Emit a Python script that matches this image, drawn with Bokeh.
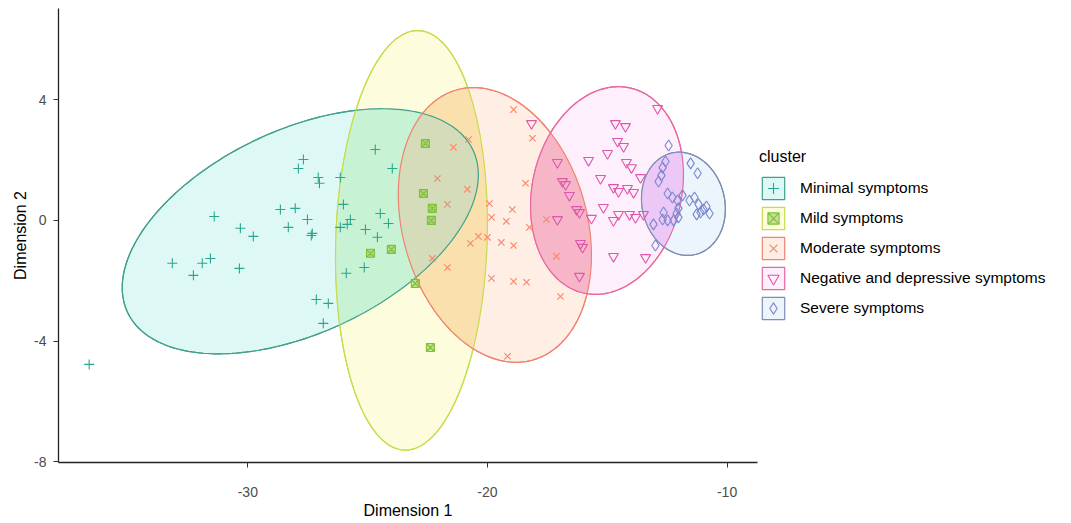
import numpy as np
from bokeh.plotting import figure
from bokeh.models import Legend, LegendItem, FixedTicker, Range1d
from bokeh.embed import file_html
from bokeh.resources import INLINE

clusters = ["Minimal symptoms", "Mild symptoms", "Moderate symptoms",
            "Negative and depressive symptoms", "Severe symptoms"]

minimal_x = [-27.68, -27.89, -27.06, -27.01, -26.14, -26.01, -24.68, -23.97, -31.40, -28.64,
             -28.02, -27.51, -28.31, -27.31, -27.35, -30.31, -29.77, -33.15, -32.27, -31.90,
             -31.56, -30.35, -25.72, -25.85, -26.14, -25.09, -24.47, -24.13, -24.59, -25.89,
             -25.14, -27.14, -26.64, -26.85, -36.62]
minimal_y = [2.02, 1.72, 1.42, 1.23, 1.42, 0.53, 2.35, 1.72, 0.13, 0.36,
             0.40, 0.03, -0.23, -0.43, -0.50, -0.26, -0.53, -1.42, -1.82, -1.42,
             -1.26, -1.59, 0.03, -0.13, -0.23, -0.30, 0.23, -0.10, -0.56, -1.75,
             -1.56, -2.62, -2.75, -3.41, -4.77]

mild_x = [-22.59, -22.67, -22.30, -22.34, -24.88, -24.01, -23.01, -22.38]
mild_y = [2.55, 0.89, 0.40, 0.00, -1.09, -0.96, -2.09, -4.21]

moderate_x = [-18.91, -18.12, -20.79, -21.42, -22.09, -20.84, -21.67, -18.41, -19.92, -18.96,
              -19.83, -19.21, -18.25, -20.38, -20.71, -20.00, -19.42, -18.91, -22.30, -21.67,
              -19.83, -18.91, -18.37, -17.12, -17.54, -16.95, -19.16]
moderate_y = [3.67, 2.72, 2.68, 2.42, 1.39, 1.03, 0.53, 1.23, 0.56, 0.36,
              0.10, -0.03, -0.23, -0.53, -0.76, -0.56, -0.73, -0.83, -1.26, -1.56,
              -1.92, -2.02, -2.05, -1.19, 0.03, -2.52, -4.50]

negative_x = [-12.90, -18.16, -14.66, -14.24, -14.57, -14.32, -14.99, -15.78, -14.20, -13.99,
              -17.08, -15.28, -16.87, -16.74, -14.74, -14.53, -14.16, -13.90, -13.61, -16.58,
              -15.16, -16.28, -16.16, -15.66, -14.74, -14.53, -14.07, -13.82, -13.49, -17.08,
              -16.12, -16.03, -14.74, -13.40, -16.16]
negative_y = [3.71, 3.21, 3.21, 3.11, 2.62, 2.45, 2.22, 1.99, 1.92, 1.75,
              1.92, 1.39, 1.29, 1.19, 1.09, 0.96, 1.06, 0.93, 1.42, 0.83,
              0.43, 0.36, 0.26, 0.07, 0.00, 0.20, 0.20, 0.10, 0.20, 0.03,
              -0.76, -0.89, -1.19, -1.23, -1.85]

severe_x = [-12.44, -12.57, -12.69, -11.52, -11.23, -12.74, -12.86, -12.48, -12.28, -12.07,
            -11.86, -11.57, -11.36, -11.19, -10.98, -11.11, -11.27, -12.03, -12.11, -12.65,
            -12.69, -12.48, -12.23, -12.03, -13.07, -12.99, -10.73, -10.86]
severe_y = [2.48, 1.95, 1.75, 1.89, 1.56, 1.49, 1.29, 0.89, 0.76, 0.66,
            0.83, 0.66, 0.76, 0.53, 0.36, 0.26, 0.20, 0.40, 0.23, 0.26,
            0.03, 0.00, 0.00, 0.10, -0.13, -0.83, 0.23, 0.46]

# confidence ellipses: centre, half extent in x and y, correlation
ell_cx = [-27.81, -23.17, -19.69, -15.01, -11.82]
ell_cy = [-0.36, -0.66, -0.15, 0.99, 0.55]
ell_hx = [7.43, 3.17, 4.03, 3.19, 1.75]
ell_hy = [4.06, 6.95, 4.55, 3.44, 1.71]
ell_r = [0.46, 0.08, -0.22, 0.15, -0.10]

x_ticks = [-30, -20, -10]
y_ticks = [-8, -4, 0, 4]

xs_all = [minimal_x, mild_x, moderate_x, negative_x, severe_x]
ys_all = [minimal_y, mild_y, moderate_y, negative_y, severe_y]
markers = ["cross", "square_x", "x", "inverted_triangle", "diamond"]
sizes = [10, 8, 9, 10, 11]
point_colors = ["#2AA690", "#7DC234", "#F5876A", "#E056AC", "#7B86CF"]
line_colors = ["#40A08A", "#C8DC4E", "#F0836F", "#E9679F", "#7F8DB5"]
fill_colors = ["#DEF8F5", "#FDFCDC", "#FEEEE4", "#FDEFFC", "#ECF4FC"]


def ellipse_pts(i, n=240):
    t = np.linspace(0, 2 * np.pi, n, endpoint=False)
    r = ell_r[i]
    x = ell_cx[i] + ell_hx[i] * np.cos(t)
    y = ell_cy[i] + ell_hy[i] * (r * np.cos(t) + np.sqrt(1 - r * r) * np.sin(t))
    return list(zip(x, y))


def clip(subject, clipper):
    out = subject
    m = len(clipper)
    for k in range(m):
        a = clipper[k]
        b = clipper[(k + 1) % m]
        inp = out
        out = []
        if not inp:
            break

        def inside(p):
            return (b[0] - a[0]) * (p[1] - a[1]) - (b[1] - a[1]) * (p[0] - a[0]) >= 0

        def inter(p, q):
            dx1, dy1 = q[0] - p[0], q[1] - p[1]
            dx2, dy2 = b[0] - a[0], b[1] - a[1]
            den = dx1 * dy2 - dy1 * dx2
            s = ((a[0] - p[0]) * dy2 - (a[1] - p[1]) * dx2) / den
            return (p[0] + s * dx1, p[1] + s * dy1)

        s_prev = inp[-1]
        for e in inp:
            if inside(e):
                if not inside(s_prev):
                    out.append(inter(s_prev, e))
                out.append(e)
            elif inside(s_prev):
                out.append(inter(s_prev, e))
            s_prev = e
    return out


p = figure(frame_width=699, frame_height=454, output_backend="svg", toolbar_location=None,
           x_range=Range1d(-37.9, -8.73), y_range=Range1d(-8.02, 7.02),
           min_border_left=58, min_border_right=306, min_border_top=8, min_border_bottom=53,
           background_fill_color="white", border_fill_color="white")
p.outline_line_color = None
p.xgrid.visible = False
p.ygrid.visible = False

ells = [ellipse_pts(i) for i in range(5)]
fill_r = []
for i in range(5):
    ex, ey = zip(*ells[i])
    fill_r.append(p.patch(list(ex), list(ey), fill_color=fill_colors[i], line_color=line_colors[i],
                          line_width=1.2))

overlaps = [((0, 1), "#C8F2D4"), ((1, 2), "#F9E0AC"), ((0, 2), "#D5DCB9"),
            ((2, 3), "#F6B6C8"), ((3, 4), "#EBC8F5")]
for (a, b), col in overlaps:
    poly = clip(ells[a], ells[b])
    if len(poly) > 2:
        px, py = zip(*poly)
        p.patch(list(px), list(py), fill_color=col, line_color=None)
tri = clip(clip(ells[0], ells[1]), ells[2])
if len(tri) > 2:
    px, py = zip(*tri)
    p.patch(list(px), list(py), fill_color="#D5DCB9", line_color=None)

for i in range(5):
    ex, ey = zip(*ells[i])
    p.patch(list(ex), list(ey), fill_alpha=0, line_color=line_colors[i], line_width=1.2)

pt_r = []
for i in range(5):
    fa = 0.45 if markers[i] == "square_x" else 0
    pt_r.append(p.scatter(xs_all[i], ys_all[i], marker=markers[i], size=sizes[i],
                          line_color=point_colors[i], fill_color=point_colors[i], fill_alpha=fa,
                          line_width=1.1))

for ax, lab in ((p.xaxis[0], "Dimension 1"), (p.yaxis[0], "Dimension 2")):
    ax.axis_label = lab
    ax.axis_label_text_font = "Liberation Sans"
    ax.axis_label_text_font_size = "16px"
    ax.axis_label_text_font_style = "normal"
    ax.axis_label_text_color = "black"
    ax.major_label_text_font = "Liberation Sans"
    ax.major_label_text_font_size = "14px"
    ax.major_label_text_color = "#4D4D4D"
    ax.axis_line_color = "#222222"
    ax.axis_line_width = 1.3
    ax.major_tick_line_color = "#333333"
    ax.major_tick_in = 0
    ax.major_tick_out = 5
    ax.minor_tick_line_color = None
p.xaxis[0].ticker = FixedTicker(ticks=x_ticks)
p.yaxis[0].ticker = FixedTicker(ticks=y_ticks)
p.xaxis[0].major_label_overrides = {t: str(t) for t in x_ticks}
p.yaxis[0].major_label_overrides = {t: str(t) for t in y_ticks}
p.xaxis[0].major_label_standoff = 19
p.xaxis[0].axis_label_standoff = 2
p.yaxis[0].major_label_standoff = 7
p.yaxis[0].axis_label_standoff = 2

items = [LegendItem(label=clusters[i], renderers=[fill_r[i], pt_r[i]]) for i in range(5)]
legend = Legend(items=items, location=(2, 140), title="cluster",
                title_text_font="Liberation Sans", title_text_font_size="16px",
                title_text_font_style="normal",
                title_text_color="black", title_standoff=8,
                label_text_font="Liberation Sans", label_text_font_size="15.5px",
                label_text_color="black", glyph_width=28, glyph_height=28,
                label_height=28, spacing=2, padding=2, margin=0, label_standoff=13,
                border_line_color=None, background_fill_alpha=0)
p.add_layout(legend, "right")

open("out.html", "w").write(file_html(p, INLINE))
